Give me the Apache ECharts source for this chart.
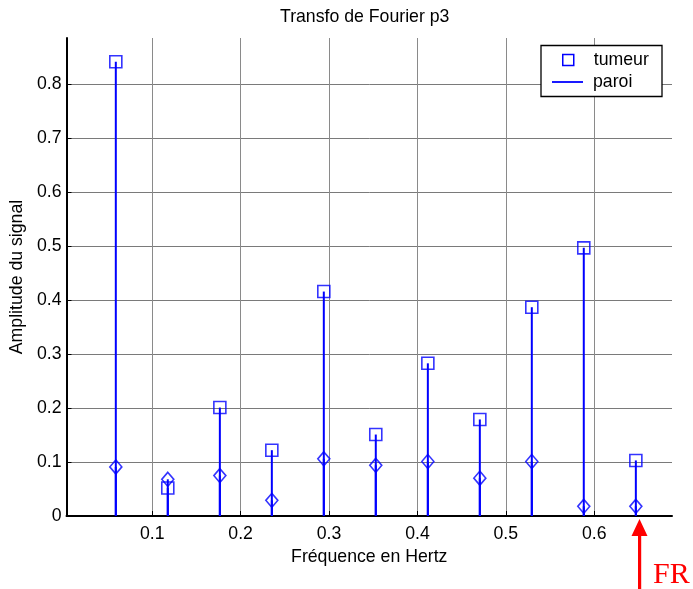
<!DOCTYPE html>
<html>
<head>
<meta charset="utf-8">
<script src="https://cdn.jsdelivr.net/npm/echarts@6/dist/echarts.min.js"></script>
<style>
html,body{margin:0;padding:0;background:#fff;}
#chart{width:693px;height:589px;}
</style>
</head>
<body>
<div id="chart"></div>
<script>
// Data
const frequencies = [0.0588, 0.1176, 0.1765, 0.2353, 0.2941, 0.3529, 0.4118, 0.4706, 0.5294, 0.5882, 0.6471];
const tumeur = [0.842, 0.052, 0.201, 0.122, 0.416, 0.151, 0.283, 0.179, 0.387, 0.497, 0.103];
const paroi = [0.091, 0.068, 0.075, 0.029, 0.106, 0.094, 0.101, 0.070, 0.101, 0.018, 0.018];
const xTickLabels = ['0.1', '0.2', '0.3', '0.4', '0.5', '0.6'];
const yTickLabels = ['0', '0.1', '0.2', '0.3', '0.4', '0.5', '0.6', '0.7', '0.8'];

const FONT = 'Liberation Sans, Arial, sans-serif';
const BLUE = '#0000ff';
const FS = 17.7;

function pairs(xs, ys) { return xs.map((x, i) => [x, ys[i]]); }

function stemRender(params, api) {
  const x = api.value(0), y = api.value(1);
  const p0 = api.coord([x, 0]);
  const p1 = api.coord([x, y]);
  return {
    type: 'line',
    shape: { x1: p0[0], y1: p0[1], x2: p1[0], y2: p1[1] },
    style: { stroke: BLUE, lineWidth: 2 }
  };
}

const chart = echarts.init(document.getElementById('chart'), null, { renderer: 'canvas' });
chart.setOption({
  animation: false,
  backgroundColor: '#fff',
  title: {
    text: 'Transfo de Fourier p3',
    left: 280, top: 8, padding: 0,
    textStyle: { fontFamily: FONT, fontSize: FS, fontWeight: 'normal', color: '#000' }
  },
  grid: { left: 65, right: 21, top: 38, bottom: 73, containLabel: false },
  xAxis: {
    type: 'value', min: 0.003, max: 0.688, splitNumber: 6,
    name: 'Fréquence en Hertz', nameLocation: 'middle', nameGap: 31,
    nameTextStyle: { fontFamily: FONT, fontSize: FS, color: '#000' },
    axisLine: { show: true, onZero: false, lineStyle: { color: '#000', width: 2 } },
    axisTick: { show: true, inside: true, length: 5, lineStyle: { color: '#000' } },
    axisLabel: {
      fontFamily: FONT, fontSize: FS, color: '#000', margin: 9,
      showMinLabel: false, showMaxLabel: false,
      formatter: v => { const s = (Math.round(v * 10) / 10).toString(); return xTickLabels.includes(s) && Math.abs(v - Math.round(v*10)/10) < 1e-6 ? s : ''; }
    },
    splitLine: { show: true, showMinLine: false, showMaxLine: false, lineStyle: { color: '#8a8a8a', width: 1 } }
  },
  yAxis: {
    type: 'value', min: 0, max: 0.886, interval: 0.1,
    name: 'Amplitude du signal', nameLocation: 'middle', nameGap: 33, nameRotate: 90,
    nameTextStyle: { fontFamily: FONT, fontSize: FS, color: '#000' },
    axisLine: { show: true, lineStyle: { color: '#000', width: 2 } },
    axisTick: { show: true, inside: true, length: 5, lineStyle: { color: '#000' } },
    axisLabel: {
      fontFamily: FONT, fontSize: FS, color: '#000', margin: 5,
      showMaxLabel: false,
      formatter: v => { const s = (Math.round(v * 10) / 10).toString(); return yTickLabels.includes(s) && Math.abs(v - Math.round(v*10)/10) < 1e-6 ? s : ''; }
    },
    splitLine: { show: true, showMinLine: false, showMaxLine: false, lineStyle: { color: '#7a7a7a', width: 1 } }
  },
  legend: [
    {
      left: 562, top: 51, orient: 'vertical', padding: 0,
      itemWidth: 11, itemHeight: 11, selectedMode: false,
      textStyle: { fontFamily: FONT, fontSize: FS, color: '#000', padding: [0, 0, 0, 15] },
      data: [{ name: 'tumeur', icon: 'rect', itemStyle: { color: 'rgba(0,0,0,0)', borderColor: BLUE, borderWidth: 1.5 } }]
    },
    {
      left: 552, top: 73, orient: 'vertical', padding: 0,
      itemWidth: 31, itemHeight: 1.8, selectedMode: false,
      textStyle: { fontFamily: FONT, fontSize: FS, color: '#000', padding: [0, 0, 0, 5] },
      data: [{ name: 'paroi', icon: 'rect', itemStyle: { color: BLUE, borderWidth: 0 } }]
    }
  ],
  graphic: [
    { type: 'rect', z: 3, shape: { x: 541, y: 45.5, width: 121, height: 51 }, style: { fill: '#fff', stroke: '#000', lineWidth: 1.3 } },
    { type: 'polygon', z: 5, shape: { points: [[631.5, 536], [639.5, 519], [647.5, 536]] }, style: { fill: '#ff0000' } },
    { type: 'rect', z: 5, shape: { x: 638, y: 535, width: 3.2, height: 60 }, style: { fill: '#ff0000' } },
    { type: 'text', z: 5, left: 653, top: 560, style: { text: 'FR', fill: '#ff0000', font: '30px "Liberation Serif", "Times New Roman", serif' } }
  ],
  series: [
    { name: 'tumeur', type: 'custom', renderItem: stemRender, data: pairs(frequencies, tumeur), z: 2, silent: true },
    { name: 'paroi', type: 'custom', renderItem: stemRender, data: pairs(frequencies, paroi), z: 2, silent: true },
    {
      name: 'tumeur', type: 'scatter', data: pairs(frequencies, tumeur), symbol: 'rect', symbolSize: 12, z: 3,
      itemStyle: { color: 'rgba(0,0,0,0)', borderColor: BLUE, borderWidth: 1.6 }
    },
    {
      name: 'paroi', type: 'scatter', data: pairs(frequencies, paroi), symbol: 'diamond', symbolSize: [12, 14], z: 3,
      itemStyle: { color: 'rgba(0,0,0,0)', borderColor: BLUE, borderWidth: 1.6 }
    }
  ]
});
</script>
</body>
</html>
